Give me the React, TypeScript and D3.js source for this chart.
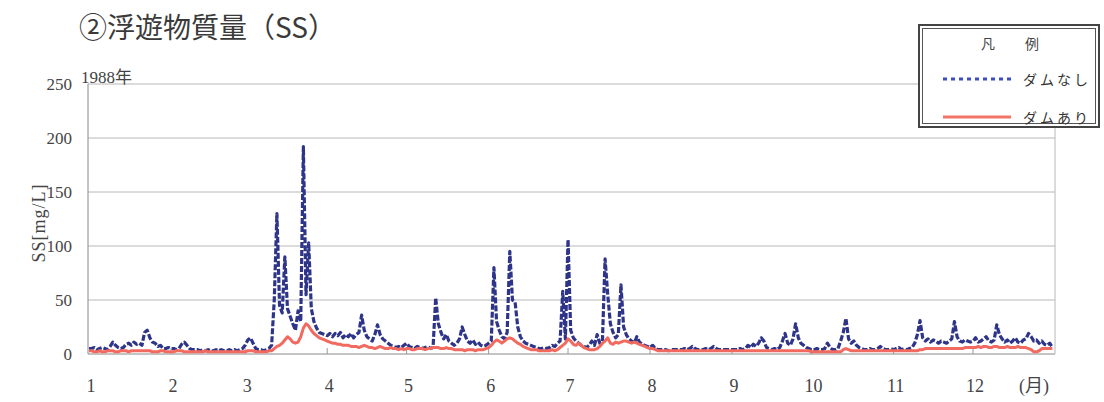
import * as d3 from "d3"

// month labels and the day-of-year each month starts on (1988)
const monthLabels = ["1", "2", "3", "4", "5", "6", "7", "8", "9", "10", "11", "12"]
const monthStartDays = [0, 31, 59, 90, 120, 151, 181, 212, 243, 273, 304, 334]
const yTicks = [0, 50, 100, 150, 200, 250]

// daily SS [mg/L], without dam (ダムなし)
const noDam = [
  5, 5, 6, 4, 5, 6, 5, 4, 7, 11, 8, 6, 5, 6, 9, 10, 8, 11, 9, 10, 8, 20, 22, 15, 11, 10, 7, 8, 5, 5, 6,
  5, 5, 4, 5, 9, 11, 8, 5, 4, 4, 4, 3, 4, 3, 4, 3, 3, 4, 3, 4, 3, 3, 4, 3, 4, 3, 4, 5,
  8, 13, 15, 10, 5, 4, 4, 3, 4, 5, 8, 50, 130, 45, 38, 90, 42, 35, 28, 22, 40, 30, 192, 55, 103, 42, 30, 24, 20, 19, 18,
  17, 19, 16, 19, 17, 20, 15, 18, 16, 19, 15, 18, 20, 36, 22, 16, 14, 12, 18, 27, 18, 14, 12, 10, 8, 7, 6, 7, 6, 8,
  10, 7, 6, 5, 7, 6, 5, 6, 7, 5, 6, 52, 28, 20, 14, 18, 12, 10, 8, 10, 14, 25, 18, 12, 10, 13, 9, 11, 8, 7, 8,
  10, 12, 80, 30, 22, 16, 14, 20, 95, 50, 48, 25, 16, 12, 10, 9, 8, 7, 6, 5, 5, 6, 5, 6, 8, 7, 10, 12, 58, 14,
  106, 22, 15, 12, 10, 8, 7, 6, 8, 12, 8, 18, 10, 12, 88, 55, 28, 20, 15, 18, 64, 25, 18, 14, 12, 10, 16, 11, 9, 8, 7,
  6, 8, 5, 4, 4, 4, 4, 3, 4, 4, 4, 4, 4, 5, 4, 5, 7, 5, 4, 4, 4, 5, 4, 5, 7, 5, 4, 4, 4, 4, 4,
  4, 4, 4, 5, 4, 5, 8, 6, 9, 7, 10, 15, 12, 6, 5, 4, 5, 4, 6, 12, 19, 10, 8, 14, 28, 15, 10, 8, 6, 5,
  4, 4, 5, 4, 4, 5, 10, 6, 4, 4, 5, 12, 20, 33, 14, 10, 12, 8, 6, 5, 4, 4, 5, 4, 4, 5, 7, 5, 4, 4, 5,
  4, 5, 6, 4, 5, 4, 5, 6, 10, 18, 31, 15, 12, 14, 11, 13, 12, 10, 12, 11, 10, 12, 14, 30, 16, 12, 11, 13, 12, 11,
  12, 15, 11, 12, 14, 16, 12, 11, 13, 27, 18, 14, 11, 13, 10, 12, 15, 11, 10, 13, 14, 19, 16, 12, 13, 10, 12, 9, 8, 10, 6,
]

// daily SS [mg/L], with dam (ダムあり)
const withDam = [
  3, 3, 2, 2, 3, 2, 2, 3, 3, 3, 2, 2, 3, 3, 3, 2, 3, 3, 3, 3, 3, 3, 3, 3, 2, 2, 2, 3, 3, 2, 2,
  2, 2, 3, 3, 3, 2, 2, 2, 2, 2, 2, 2, 2, 3, 2, 2, 2, 2, 2, 2, 2, 2, 2, 2, 2, 2, 2, 2,
  2, 3, 3, 3, 2, 2, 2, 2, 2, 3, 3, 5, 7, 8, 10, 13, 16, 14, 11, 10, 11, 16, 24, 28, 26, 22, 19, 17, 15, 14, 13,
  12, 11, 10, 10, 9, 9, 8, 8, 8, 7, 7, 7, 6, 7, 8, 7, 6, 6, 5, 6, 7, 6, 5, 5, 6, 5, 5, 4, 5, 4,
  5, 5, 4, 4, 5, 5, 5, 4, 5, 5, 6, 6, 6, 5, 5, 6, 5, 5, 4, 4, 4, 4, 3, 4, 4, 4, 3, 4, 4, 4, 5,
  6, 8, 11, 13, 12, 10, 12, 14, 15, 14, 12, 10, 9, 7, 6, 5, 4, 4, 4, 3, 3, 3, 3, 3, 4, 3, 4, 6, 8, 10,
  14, 12, 9, 8, 10, 8, 6, 5, 4, 4, 4, 5, 7, 10, 12, 15, 10, 9, 11, 10, 11, 12, 12, 11, 10, 11, 10, 9, 8, 7, 6,
  5, 5, 4, 3, 3, 3, 3, 3, 3, 3, 3, 3, 3, 3, 3, 3, 3, 3, 3, 3, 3, 3, 3, 3, 3, 3, 3, 3, 3, 3, 3,
  3, 3, 3, 3, 3, 3, 3, 3, 3, 3, 3, 3, 3, 3, 3, 3, 3, 3, 3, 3, 3, 3, 3, 3, 3, 3, 3, 3, 3, 3,
  2, 2, 2, 2, 2, 2, 2, 2, 2, 2, 2, 2, 4, 5, 4, 3, 3, 3, 3, 3, 3, 3, 3, 3, 3, 3, 3, 3, 3, 3, 3,
  3, 3, 3, 3, 3, 3, 3, 3, 3, 3, 4, 4, 5, 5, 5, 5, 5, 5, 5, 5, 5, 5, 5, 5, 5, 5, 5, 6, 6, 6,
  6, 6, 7, 6, 7, 7, 6, 6, 7, 7, 6, 6, 6, 7, 6, 6, 6, 7, 6, 6, 6, 5, 4, 2, 2, 3, 5, 5, 5, 5, 5,
]

const W = 1104
const H = 402
const left = 88
const right = 1055
const top = 84
const bottom = 354

const serif = "'Liberation Serif', 'Times New Roman', 'Noto Sans CJK JP', serif"
const gothic = "'Noto Sans CJK JP', 'Noto Sans', sans-serif"

const App = () => {
  const x = d3.scaleLinear().domain([0, 365]).range([left + 1, right])
  const y = d3.scaleLinear().domain([0, 250]).range([bottom, top])

  const line = d3
    .line<number>()
    .x((d, i) => x(i))
    .y((d) => y(d))

  return (
    <svg
      width={W}
      height={H}
      style={{ position: "absolute", left: 0, top: 0, background: "#fff" }}
    >
      {/* title */}
      <text x={79} y={38} fontFamily={gothic} fontSize={28} fill="#3a3a3a">
        ②浮遊物質量（SS）
      </text>

      {/* grid */}
      {yTicks.map((t) => (
        <line
          key={t}
          x1={left}
          x2={right}
          y1={y(t)}
          y2={y(t)}
          stroke={t === 0 ? "#888" : "#b8b8b8"}
          strokeWidth={1}
        />
      ))}
      <line x1={left} x2={left} y1={top} y2={bottom} stroke="#888" />
      <line x1={right} x2={right} y1={top} y2={bottom} stroke="#b8b8b8" />
      {monthStartDays.slice(1).map((d) => (
        <line key={d} x1={x(d)} x2={x(d)} y1={bottom} y2={bottom - 6} stroke="#999" />
      ))}

      {/* y tick labels */}
      {yTicks.map((t) => (
        <text
          key={t}
          x={72}
          y={y(t) + 6}
          textAnchor="end"
          fontFamily={serif}
          fontSize={17}
          fill="#444"
        >
          {t}
        </text>
      ))}
      <text
        transform={`translate(45, ${(top + bottom) / 2 + 4}) rotate(-90)`}
        textAnchor="middle"
        fontFamily={serif}
        fontSize={18}
        letterSpacing={1}
        fill="#444"
      >
        SS[mg/L]
      </text>
      <text x={81} y={83} fontFamily={serif} fontSize={17} fill="#444">
        1988年
      </text>

      {/* x labels */}
      {monthLabels.map((m, i) => (
        <text
          key={m}
          x={x(monthStartDays[i]) + 2}
          y={392}
          textAnchor="middle"
          fontFamily={serif}
          fontSize={18}
          fill="#444"
        >
          {m}
        </text>
      ))}
      <text x={1034} y={392} textAnchor="middle" fontFamily={serif} fontSize={18} fill="#444">
        (月)
      </text>

      {/* series */}
      <path
        d={line(noDam) ?? ""}
        fill="none"
        stroke="#2e3588"
        strokeWidth={3.2}
        strokeDasharray="6,2"
        strokeLinejoin="round"
      />
      <path
        d={line(withDam) ?? ""}
        fill="none"
        stroke="#f26a5f"
        strokeWidth={3}
        strokeLinejoin="round"
      />

      {/* legend */}
      <rect x={919} y={25} width={180} height={102} fill="#fff" stroke="#444" strokeWidth={2} />
      <rect x={922.5} y={28.5} width={173} height={95} fill="none" stroke="#555" strokeWidth={1} />
      <text x={988} y={49} textAnchor="middle" fontFamily={serif} fontSize={14} fill="#444">
        凡
      </text>
      <text x={1032} y={49} textAnchor="middle" fontFamily={serif} fontSize={14} fill="#444">
        例
      </text>
      <line x1={943} x2={1011} y1={79} y2={79} stroke="#3a4cc0" strokeWidth={3} strokeDasharray="4,4" />
      <text x={1023} y={85} fontFamily={gothic} fontSize={14} letterSpacing={3} fill="#333">
        ダムなし
      </text>
      <line x1={943} x2={1011} y1={117} y2={117} stroke="#f47468" strokeWidth={3} />
      <text x={1023} y={123} fontFamily={gothic} fontSize={14} letterSpacing={3} fill="#333">
        ダムあり
      </text>
    </svg>
  )
}

export default App
